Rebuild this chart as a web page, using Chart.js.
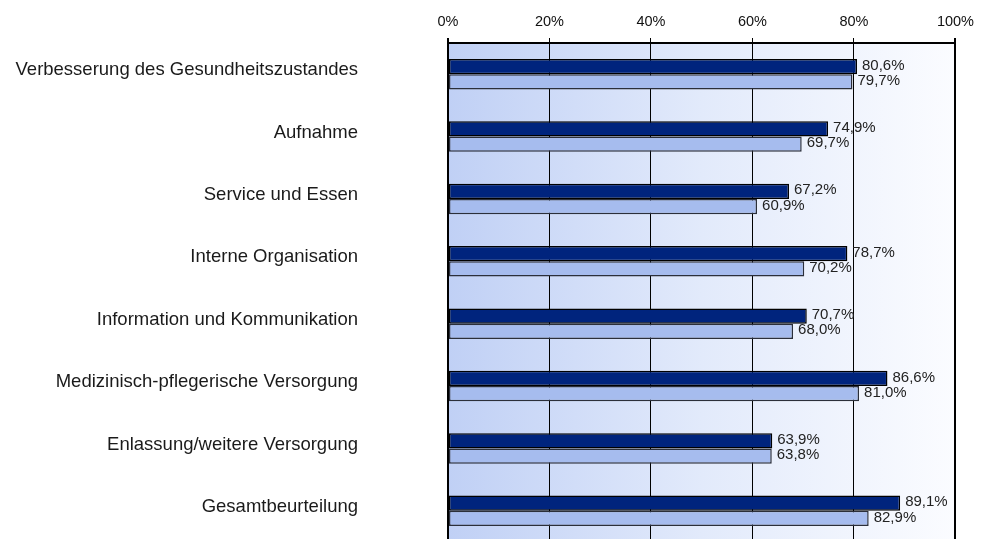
<!DOCTYPE html>
<html>
<head>
<meta charset="utf-8">
<script src="https://cdn.jsdelivr.net/npm/chart.js@4/dist/chart.umd.min.js"></script>
<style>
  html, body { margin: 0; padding: 0; background: #fff; overflow: hidden; }
  #wrap { position: relative; width: 981px; height: 542px; }
</style>
</head>
<body>
<div id="wrap"><canvas id="chart_zufriedenheit"></canvas></div>
<script>
var categories = [
    'Verbesserung des Gesundheitszustandes',
    'Aufnahme',
    'Service und Essen',
    'Interne Organisation',
    'Information und Kommunikation',
    'Medizinisch-pflegerische Versorgung',
    'Enlassung/weitere Versorgung',
    'Gesamtbeurteilung'
];
var werteDunkel = [80.6, 74.9, 67.2, 78.7, 70.7, 86.6, 63.9, 89.1];
var werteHell = [79.7, 69.7, 60.9, 70.2, 68.0, 81.0, 63.8, 82.9];
var xTicks = [0, 20, 40, 60, 80, 100];

Chart.defaults.font.family = "'Liberation Sans', Arial, sans-serif";
Chart.defaults.color = '#1a1a1a';

// gradient behind the plot area
var plotBackground = {
    id: 'plotBackground',
    beforeDraw: function (chart) {
        var a = chart.chartArea, ctx = chart.ctx;
        var g = ctx.createLinearGradient(a.left, 0, a.right, 0);
        g.addColorStop(0, 'rgb(192,208,245)');
        g.addColorStop(0.5, 'rgb(226,234,251)');
        g.addColorStop(1, 'rgb(251,252,255)');
        ctx.save();
        ctx.fillStyle = g;
        ctx.fillRect(a.left, a.top, a.right - a.left, a.bottom - a.top);
        ctx.restore();
    }
};

// value labels right of each bar, german decimal comma
var valueLabels = {
    id: 'valueLabels',
    afterDatasetsDraw: function (chart) {
        var ctx = chart.ctx;
        ctx.save();
        ctx.font = "15px 'Liberation Sans', Arial, sans-serif";
        ctx.fillStyle = '#222';
        ctx.textAlign = 'left';
        ctx.textBaseline = 'middle';
        chart.data.datasets.forEach(function (ds, i) {
            chart.getDatasetMeta(i).data.forEach(function (bar, j) {
                var txt = ds.data[j].toFixed(1).replace('.', ',') + '%';
                ctx.fillText(txt, bar.x + 5, bar.y - 1);
            });
        });
        ctx.restore();
    }
};

document.chartZufriedenheit = new Chart(document.getElementById('chart_zufriedenheit'), {
    type: 'bar',
    data: {
        labels: categories,
        datasets: [{
            data: werteDunkel,
            backgroundColor: 'rgb(0,36,125)',
            borderColor: '#000',
            borderWidth: 1.5,
            borderSkipped: false
        }, {
            data: werteHell,
            backgroundColor: 'rgb(166,188,238)',
            borderColor: '#2b2f3a',
            borderWidth: 1.5,
            borderSkipped: false
        }]
    },
    options: {
        indexAxis: 'y',
        responsive: true,
        maintainAspectRatio: false,
        animation: false,
        layout: { padding: { left: 0, right: 25, top: 0, bottom: 0 } },
        datasets: {
            bar: { categoryPercentage: 0.49, barPercentage: 1.0 }
        },
        plugins: {
            legend: { display: false },
            tooltip: { enabled: false }
        },
        scales: {
            x: {
                position: 'top',
                min: 0,
                max: 100,
                afterBuildTicks: function (scale) {
                    scale.ticks = xTicks.map(function (v) { return { value: v }; });
                },
                afterFit: function (scale) { scale.height = 43; },
                ticks: {
                    callback: function (v) { return v + '%'; },
                    font: { size: 14.5 },
                    color: '#111',
                    padding: 7,
                    maxRotation: 0
                },
                grid: {
                    color: '#000',
                    lineWidth: function (ctx) { return (ctx.index === 0 || ctx.index === 5) ? 2 : 1; },
                    drawTicks: true,
                    tickLength: 5,
                    tickColor: '#000'
                },
                border: { display: true, color: '#000', width: 2 }
            },
            y: {
                afterFit: function (scale) {
                    scale.width = 448;
                    scale.paddingTop = 0;
                    scale.paddingBottom = 0;
                },
                ticks: {
                    font: { size: 18.5 },
                    color: '#1a1a1a',
                    padding: 90,
                    labelOffset: -4,
                    autoSkip: false
                },
                grid: { display: false, drawTicks: false },
                border: { display: true, color: '#000', width: 2 }
            }
        }
    },
    plugins: [plotBackground, valueLabels]
});
</script>
</body>
</html>
